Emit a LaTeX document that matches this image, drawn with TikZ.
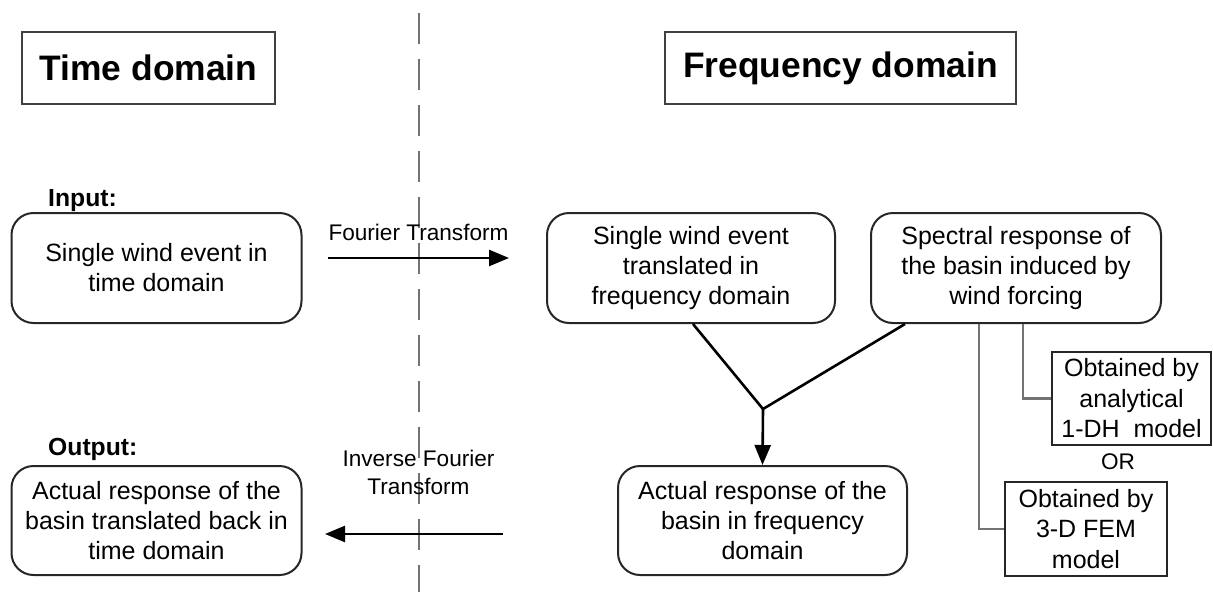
\documentclass[tikz,border=0pt]{standalone}
\usepackage{fontspec}
\setmainfont{Liberation Sans}
\usetikzlibrary{
  arrows.meta
}
\tikzset{
  domain title/.style={
    draw=black!75,
    line width=2.2pt,
    minimum width=#1,
    minimum height=72pt,
    inner sep=0pt,
    font=\fontsize{35.4}{40}\selectfont\bfseries
  },
  process box/.style={
    draw=black!85,
    line width=2pt,
    rounded corners=22pt,
    minimum width=290pt,
    minimum height=110pt,
    inner sep=0pt,
    align=center,
    font=\fontsize{25}{30}\selectfont
  },
  model box/.style={
    draw=black!85,
    line width=2pt,
    inner sep=0pt,
    align=center,
    font=\fontsize{25}{30.5}\selectfont
  },
  io label/.style={
    anchor=base west,
    inner sep=0pt,
    font=\fontsize{24.7}{30}\selectfont\bfseries
  },
  flow label/.style={
    anchor=base,
    inner sep=0pt,
    align=center,
    font=\fontsize{22.6}{28}\selectfont
  },
  flow arrow/.style={
    line width=2.6pt,
    -{Triangle[length=20pt,width=16pt]}
  },
  merge line/.style={
    line width=2.6pt
  },
  model link/.style={
    draw=black!55,
    line width=2.6pt
  },
  domain split/.style={
    draw=black!55,
    line width=2.6pt,
    dash pattern=on 31pt off 15pt
  }
}

\begin{document}
\begin{tikzpicture}[x=1pt,y=-1pt]

    \useasboundingbox (0,0) rectangle (1213,592);

    % ---------- 時間領域 / 周波数領域 ----------
    \node[domain title=253pt] (tdom) at (148.5,68) {Time domain};
    \node[domain title=351pt] (fdom) at (840.5,68) {Frequency domain};

    % 境界線
    \coordinate (split top) at (419,13);
    \coordinate (split bot) at (419,592);
    \draw[domain split] (split top) -- (split bot);

    % ---------- 入力 ----------
    \node[io label] (inlbl) at (48,206) {Input:};
    \node[process box] (windt) at (156.5,268)
      {Single wind event in\\time domain};

    \node[process box, minimum width=288pt] (windf) at (691,268)
      {Single wind event\\translated in\\frequency domain};
    \node[process box] (spec) at (1016,268)
      {Spectral response of\\the basin induced by\\wind forcing};

    % フーリエ変換
    \coordinate (ft a) at (328,258);
    \coordinate (ft b) at (509,258);
    \draw[flow arrow] (ft a) -- (ft b);
    \node[flow label] (ftlbl) at (418.5,240) {Fourier Transform};

    % ---------- モデル ----------
    \node[model box, minimum width=159pt, minimum height=93pt]
      (anal) at (1131.5,398.5) {Obtained by\\analytical\\1-DH\ \ model};
    \node[inner sep=0pt, font=\fontsize{22.6}{28}\selectfont]
      (orlbl) at (1118,462) {OR};
    \node[model box, minimum width=162pt, minimum height=94pt]
      (fem) at (1086,529) {Obtained by\\3-D FEM\\model};

    \draw[model link] ([xshift=7pt]spec.south) |- (anal.west);
    \draw[model link] ([xshift=-37pt]spec.south) |- (fem.west);

    % ---------- 出力 ----------
    \node[io label] (outlbl) at (48,455) {Output:};
    \node[process box, minimum height=109pt] (respt) at (156.5,520.5)
      {Actual response of the\\basin translated back in\\time domain};
    \node[process box, minimum width=289pt, minimum height=109pt]
      (respf) at (762.5,520.5)
      {Actual response of the\\basin in frequency\\domain};

    % 合成
    \coordinate (join) at (763,409);
    \draw[merge line] ([xshift=2pt]windf.south) -- (join);
    \draw[merge line] ([xshift=-111pt]spec.south) -- (join);
    \draw[flow arrow] (join) -- (respf.north);

    % 逆フーリエ変換
    \coordinate (ift a) at (503,534);
    \coordinate (ift b) at (325,534);
    \draw[flow arrow] (ift a) -- (ift b);
    \node[flow label] (iftlbl) at (418.5,494)
      {Inverse Fourier\\Transform};

  \end{tikzpicture}
\end{document}
